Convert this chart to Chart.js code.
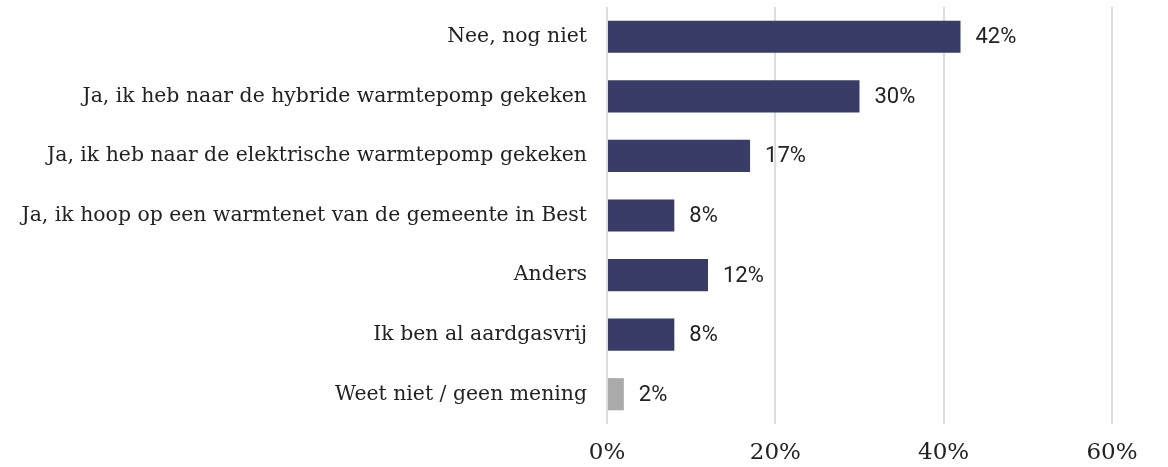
<!DOCTYPE html>
<html>
<head>
<meta charset="utf-8">
<script src="https://cdn.jsdelivr.net/npm/chart.js@4"></script>
<style>
  html, body { margin: 0; padding: 0; background: #fff; }
  #wrap { width: 1168px; height: 467px; }
</style>
</head>
<body>
<div id="wrap"><canvas id="answerChart"></canvas></div>
<script>
const categories = [
    'Nee, nog niet',
    'Ja, ik heb naar de hybride warmtepomp gekeken',
    'Ja, ik heb naar de elektrische warmtepomp gekeken',
    'Ja, ik hoop op een warmtenet van de gemeente in Best',
    'Anders',
    'Ik ben al aardgasvrij',
    'Weet niet / geen mening'
];
const percentages = [42, 30, 17, 8, 12, 8, 2];
const xTicks = [0, 20, 40, 60];

const navy = '#393c66';
const grey = '#aaaaaa';
const barColors = categories.map(c => c.startsWith('Weet niet') ? grey : navy);

// simple value labels next to each bar
const valueLabels = {
    id: 'valueLabels',
    afterDatasetsDraw(chart) {
        const ctx = chart.ctx;
        const meta = chart.getDatasetMeta(0);
        ctx.save();
        ctx.font = '22px Roboto';
        ctx.fillStyle = '#222';
        ctx.textAlign = 'left';
        ctx.textBaseline = 'middle';
        meta.data.forEach((bar, i) => {
            ctx.fillText(percentages[i] + '%', bar.x + 15, bar.y + 1);
        });
        ctx.restore();
    }
};

const ctx = document.getElementById('answerChart').getContext('2d');
new Chart(ctx, {
    type: 'bar',
    data: {
        labels: categories,
        datasets: [{
            data: percentages,
            backgroundColor: barColors,
            barPercentage: 0.54,
            categoryPercentage: 1.0
        }]
    },
    plugins: [valueLabels],
    options: {
        indexAxis: 'y',
        responsive: true,
        maintainAspectRatio: false,
        animation: false,
        layout: {
            padding: { top: 7, right: 56, left: 0, bottom: 0 }
        },
        plugins: {
            legend: { display: false },
            tooltip: { enabled: false }
        },
        scales: {
            x: {
                min: 0,
                max: 60,
                afterBuildTicks: function(scale) {
                    scale.ticks = xTicks.map(v => ({ value: v }));
                },
                afterFit: function(scale) {
                    scale.height = 43;
                },
                border: { display: false },
                grid: {
                    color: '#dcdcdc',
                    lineWidth: 2,
                    drawTicks: false
                },
                ticks: {
                    padding: 15,
                    color: '#222',
                    font: { family: 'DejaVu Serif', size: 23 },
                    callback: function(value) {
                        return value + '%';
                    }
                }
            },
            y: {
                afterFit: function(scale) {
                    scale.width = 607;
                    scale.paddingTop = 0;
                    scale.paddingBottom = 0;
                },
                border: { display: false },
                grid: { display: false, drawTicks: false },
                ticks: {
                    padding: 20,
                    color: '#222',
                    font: { family: 'DejaVu Serif', size: 20.4 }
                }
            }
        }
    }
});
</script>
</body>
</html>
